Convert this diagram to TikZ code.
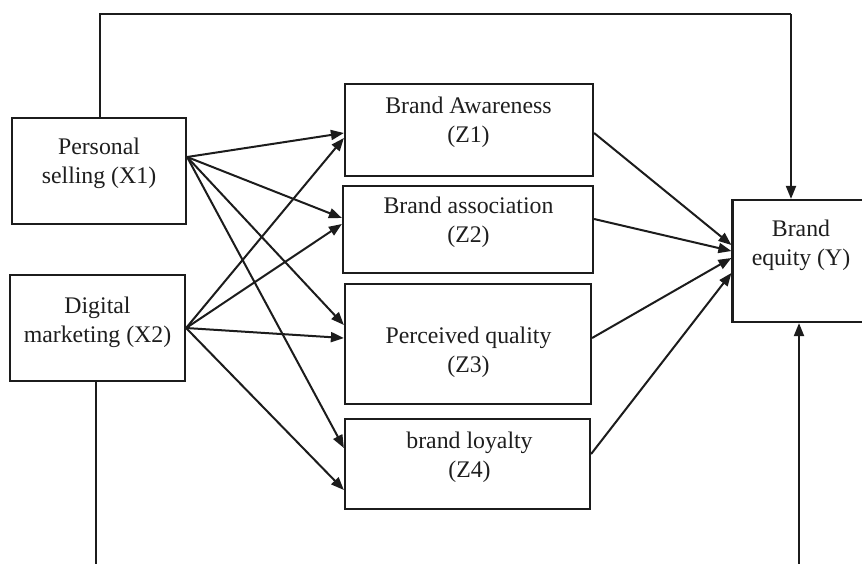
\documentclass[tikz,border=0pt]{standalone}
\usepackage{fontspec}
\setmainfont{Liberation Serif}
\usetikzlibrary{arrows.meta}
\definecolor{linec}{RGB}{28,28,28}
\definecolor{textc}{RGB}{30,30,30}
\newcommand{\lstrut}{\rule[-6pt]{0pt}{28pt}}
\begin{document}
\begin{tikzpicture}[x=1pt,y=-1pt]
\tikzset{
  box/.style={draw=linec, line width=2.2pt, inner sep=0pt},
  lbl/.style={inner sep=0pt, align=center, font=\fontsize{23.8}{29}\selectfont, text=textc},
  arr/.style={draw=linec, line width=2pt, -{Triangle[length=13pt,width=10pt]}},
  ln/.style={draw=linec, line width=2pt},
}
\useasboundingbox (0,0) rectangle (862,563);
\clip (0,0) rectangle (862,563);
\fill[white] (0,0) rectangle (862,563);

% boxes
\node[box, minimum width=174pt, minimum height=106pt] (x1) at (99,171) {};
\node[box, minimum width=175pt, minimum height=106pt] (x2) at (97.5,328) {};
\node[box, minimum width=248pt, minimum height=92pt] (z1) at (469,130) {};
\node[box, minimum width=250pt, minimum height=87pt] (z2) at (468,229.5) {};
\node[box, minimum width=246pt, minimum height=120pt] (z3) at (468,344) {};
\node[box, minimum width=245pt, minimum height=90pt] (z4) at (467.5,464) {};
\node[box, minimum width=137pt, minimum height=122pt] (y) at (801,261) {};

% labels
\node[lbl] (x1t) at (99,161) {\lstrut Personal\\\lstrut selling (X1)};
\node[lbl] (x2t) at (97.5,319.5) {\lstrut Digital\\\lstrut marketing (X2)};
\node[lbl] (z1t) at (468.5,119.5) {\lstrut Brand Awareness\\\lstrut (Z1)};
\node[lbl] (z2t) at (468.5,220) {\lstrut Brand association\\\lstrut (Z2)};
\node[lbl] (z3t) at (468.5,349.5) {\lstrut Perceived quality\\\lstrut (Z3)};
\node[lbl] (z4t) at (469.5,455) {\lstrut brand loyalty\\\lstrut (Z4)};
\node[lbl] (yt) at (801,243) {\lstrut Brand\\\lstrut equity (Y)};

% coordinates for free ends and bends
\coordinate (tl) at (100,14);
\coordinate (tr) at (791,14);
\coordinate (bl) at (96,575);
\coordinate (br) at (799,575);

% direct paths X -> Y
\draw[ln] ([xshift=1pt]x1.north) -- (tl) -- (tr);
\draw[arr] (tr) -- (tr |- y.north);
\draw[ln] (bl |- x2.south) -- (bl);
\draw[arr] (br) -- (br |- y.south);

% X1 -> Z
\draw[arr] ([yshift=14pt]x1.east) -- ([yshift=-3pt]z1.west);
\draw[arr] ([yshift=14pt]x1.east) -- ([yshift=11.5pt]z2.west);
\draw[arr] ([yshift=14pt]x1.east) -- ([yshift=19pt]z3.west);
\draw[arr] ([yshift=14pt]x1.east) -- ([yshift=16pt]z4.west);

% X2 -> Z
\draw[arr] (x2.east) -- ([yshift=-8pt]z1.west);
\draw[arr] (x2.east) -- ([yshift=5.5pt]z2.west);
\draw[arr] (x2.east) -- ([yshift=6pt]z3.west);
\draw[arr] (x2.east) -- ([yshift=-26pt]z4.west);

% Z -> Y
\draw[arr] ([yshift=-3pt]z1.east) -- ([yshift=16pt]y.west);
\draw[arr] ([yshift=10.5pt]z2.east) -- ([yshift=10pt]y.west);
\draw[arr] ([yshift=6pt]z3.east) -- ([yshift=3pt]y.west);
\draw[arr] ([yshift=10pt]z4.east) -- ([yshift=-12pt]y.west);
\end{tikzpicture}
\end{document}
